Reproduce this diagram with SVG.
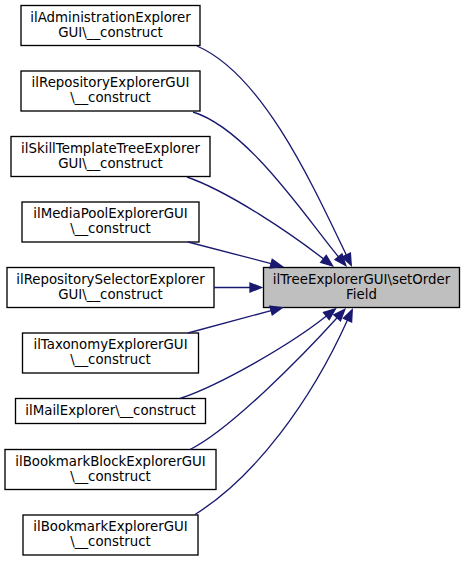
<svg xmlns="http://www.w3.org/2000/svg" width="464" height="561" viewBox="0 0 464 561">
<style>
.node rect{fill:#ffffff;stroke:#000000;stroke-width:1.33}
.target rect{fill:#bfbfbf;stroke:#000000;stroke-width:1.33}
text{font-family:"DejaVu Sans","Liberation Sans",sans-serif;font-size:13.33px;text-anchor:middle;fill:#000000}
.edges path{fill:none;stroke:#191970;stroke-width:1.33;marker-end:url(#ah)}
</style>
<defs>
<marker id="ah" markerUnits="userSpaceOnUse" markerWidth="20" markerHeight="14" refX="1" refY="7" orient="auto" overflow="visible">
<path d="M1,2.5 L12.5,7 L1,11.5 Z" fill="#191970" stroke="#191970" stroke-width="1.33"/>
</marker>
</defs>
<rect x="0" y="0" width="464" height="561" fill="#ffffff"/>
<g id="target" class="target">
<rect x="263.5" y="267.5" width="196" height="40"/>
<text x="361.5" y="283.8">ilTreeExplorerGUI\setOrder</text>
<text x="361.5" y="298.5">Field</text>
</g>
<g id="node1" class="node">
<rect x="21" y="5.5" width="179" height="40"/>
<text x="110.5" y="21.8">ilAdministrationExplorer</text>
<text x="110.5" y="36.5">GUI\__construct</text>
</g>
<g id="node2" class="node">
<rect x="21" y="71" width="179" height="40"/>
<text x="110.5" y="87.3">ilRepositoryExplorerGUI</text>
<text x="110.5" y="102">\__construct</text>
</g>
<g id="node3" class="node">
<rect x="11" y="136.5" width="199" height="40"/>
<text x="110.5" y="152.8">ilSkillTemplateTreeExplorer</text>
<text x="110.5" y="167.5">GUI\__construct</text>
</g>
<g id="node4" class="node">
<rect x="22" y="202" width="177" height="40"/>
<text x="110.5" y="218.3">ilMediaPoolExplorerGUI</text>
<text x="110.5" y="233">\__construct</text>
</g>
<g id="node5" class="node">
<rect x="7" y="267.5" width="207" height="40"/>
<text x="110.5" y="283.8">ilRepositorySelectorExplorer</text>
<text x="110.5" y="298.5">GUI\__construct</text>
</g>
<g id="node6" class="node">
<rect x="22.5" y="333" width="176" height="40"/>
<text x="110.5" y="349.3">ilTaxonomyExplorerGUI</text>
<text x="110.5" y="364">\__construct</text>
</g>
<g id="node7" class="node">
<rect x="15.5" y="398.5" width="190" height="25"/>
<text x="110.5" y="415">ilMailExplorer\__construct</text>
</g>
<g id="node8" class="node">
<rect x="5" y="449.5" width="211" height="40"/>
<text x="110.5" y="465.8">ilBookmarkBlockExplorerGUI</text>
<text x="110.5" y="480.5">\__construct</text>
</g>
<g id="node9" class="node">
<rect x="23" y="515" width="175" height="40"/>
<text x="110.5" y="531.3">ilBookmarkExplorerGUI</text>
<text x="110.5" y="546">\__construct</text>
</g>
<g id="edges" class="edges">
<path d="M197,46 C262,74 311.9,183 346.3,255"/>
<path d="M193,112 C248,129 306.5,218.3 338.5,256.8"/>
<path d="M187,177 C230,192 291.9,234.5 323.5,258.9"/>
<path d="M188,242 L271.1,263.6"/>
<path d="M214,287.5 L250,287.5"/>
<path d="M188,333 L271.1,310.6"/>
<path d="M180,398.5 C220,385 290,345 326.4,316"/>
<path d="M190,449.5 C230,430 303.6,354.8 337.1,317.8"/>
<path d="M195,514.5 C255,477 310.6,402 347.5,320.1"/>
</g>
</svg>
